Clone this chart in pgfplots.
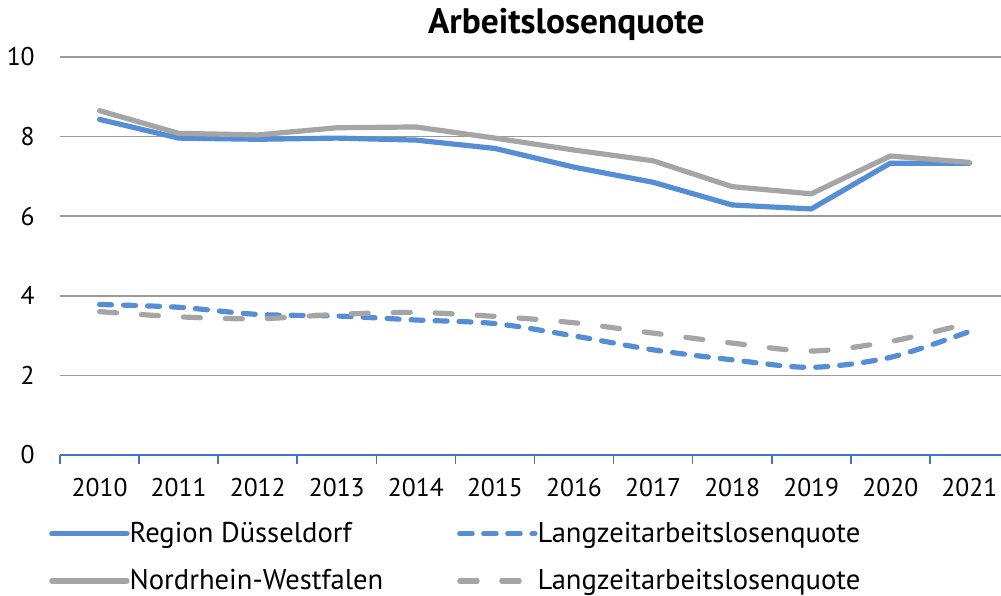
\documentclass[border=0pt]{standalone}
\usepackage{fontspec}
\setmainfont{PT Sans}
\usepackage{pgfplots}
\usepackage{pgfplotstable}
\pgfplotsset{compat=1.18}

\definecolor{rdblue}{HTML}{558ED5}
\definecolor{nrwgray}{HTML}{A5A5A5}
\definecolor{axblue}{HTML}{4472C4}
\definecolor{gridgray}{HTML}{9A9A9A}

% index 0..11 = 2010..2021
\pgfplotstableread{
idx rd   nrw  rdl  nrwl
0   8.43 8.65 3.78 3.60
1   7.96 8.08 3.71 3.47
2   7.93 8.04 3.53 3.42
3   7.96 8.22 3.49 3.53
4   7.91 8.24 3.39 3.58
5   7.70 7.96 3.30 3.48
6   7.23 7.66 2.99 3.32
7   6.85 7.39 2.64 3.06
8   6.28 6.74 2.39 2.81
9   6.18 6.56 2.20 2.61
10  7.33 7.51 2.45 2.85
11  7.33 7.35 3.10 3.31
}\quote

\begin{document}
\begin{tikzpicture}
\begin{axis}[
    scale only axis, width=470.5pt, height=199pt,
    xmin=-0.5, xmax=11.4, ymin=0, ymax=10,
    axis x line=bottom, axis y line=left,
    x axis line style={draw=axblue, line width=1pt, -},
    y axis line style={draw=none},
    xtick={0,...,11},
    xticklabels={2010,2011,2012,2013,2014,2015,2016,2017,2018,2019,2020,2021},
    major x tick style={draw=none},
    minor xtick={-0.5,0.5,...,10.5},
    minor x tick style={draw=axblue, line width=0.8pt},
    minor tick length=4.5pt,
    xtick align=outside,
    ytick={0,2,...,10}, ytick style={draw=none},
    ymajorgrids, grid style={gridgray, line width=0.8pt},
    /pgf/number format/assume math mode=true,
    tick label style={font=\fontsize{12.8}{15}\selectfont},
    yticklabel style={xshift=-7pt},
    xticklabel style={yshift=-4pt},
    title={Arbeitslosenquote},
    title style={font=\bfseries\fontsize{17.7}{19}\selectfont,
        at={(axis description cs:0.538,1)}, anchor=south, yshift=-1.5pt},
    legend columns=2,
    legend cell align=left,
    legend style={at={(axis description cs:-0.0117,-0.1575)}, anchor=north west,
        draw=none, fill=none, inner sep=0pt,
        font=\fontsize{14.3}{16}\selectfont,
        /tikz/every even column/.append style={column sep=35pt},
        row sep=8pt},
    legend image code/.code={%
        \path (0pt,0pt) -- (35.5pt,0pt);
        \draw[#1, overlay] (0pt,0pt) -- (37.5pt,0pt);},
]
\addplot[rdblue, line width=2.6pt, line join=round, line cap=round] table[x=idx, y=rd] {\quote};
\addlegendentry{Region Düsseldorf}
\addplot[rdblue, line width=2.6pt, line cap=round, dash pattern=on 6pt off 6pt, smooth, tension=0.5] table[x=idx, y=rdl] {\quote};
\addlegendentry{Langzeitarbeitslosenquote}
\addplot[nrwgray, line width=2.6pt, line join=round, line cap=round] table[x=idx, y=nrw] {\quote};
\addlegendentry{Nordrhein-Westfalen}
\addplot[nrwgray, line width=2.6pt, line cap=round, dash pattern=on 8.5pt off 12.5pt, smooth, tension=0.5] table[x=idx, y=nrwl] {\quote};
\addlegendentry{Langzeitarbeitslosenquote}
\coordinate (bbsw) at (axis description cs:-0.0638,-0.3545);
\coordinate (bbne) at (axis description cs:1,1.143);
\end{axis}
\pgfresetboundingbox
\path[use as bounding box] (bbsw) rectangle (bbne);
\end{tikzpicture}
\end{document}
